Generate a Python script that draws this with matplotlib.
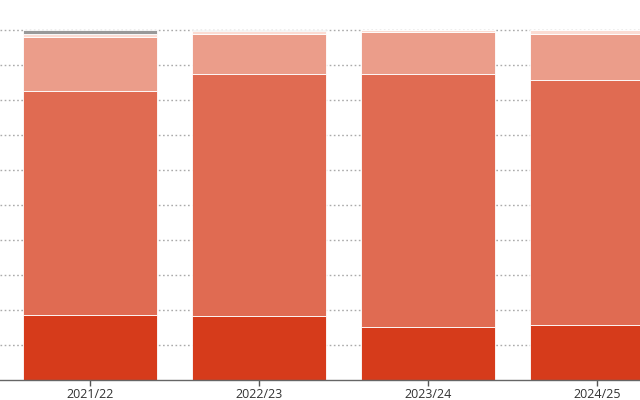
import matplotlib.pyplot as plt
import numpy as np

plt.rcParams['font.family'] = ['Open Sans', 'DejaVu Sans']

years = ['2021/22', '2022/23', '2023/24', '2024/25']
# stacked shares (percent), bottom to top
dark = [18.7, 18.4, 15.2, 15.7]
medium = [63.9, 69.0, 72.2, 70.0]
light = [15.4, 11.5, 12.0, 13.2]
pale = [0.8, 0.8, 0.6, 1.1]
grey = [1.2, 0.4, 0.0, 0.0]

colors = ['#d63b1b', '#e06b52', '#eb9d8a', '#fbdcd3', '#999999']

fig = plt.figure(figsize=(6.4, 4.0), dpi=100)
ax = fig.add_axes([0, 0.05, 1, 0.95])

x = np.arange(len(years))
bottom = np.zeros(len(years))
for vals, c in zip([dark, medium, light, pale, grey], colors):
    ax.bar(x, vals, width=0.79, bottom=bottom, color=c, edgecolor='white',
           linewidth=0.6, zorder=2)
    bottom += np.array(vals)

ax.set_xlim(-0.533, 3.254)
ax.set_ylim(0, 108.57)
ax.set_yticks(np.arange(10, 101, 10))
ax.yaxis.grid(True, linestyle=(0, (1.2, 1.8)), color='#aaaaaa', linewidth=1, zorder=0)
ax.tick_params(axis='y', left=False, labelleft=False)

ax.set_xticks(x)
ax.set_xticklabels(years, fontsize=9, color='#333333')
ax.tick_params(axis='x', length=4, color='#555555', width=1, pad=2)

for s in ['top', 'right', 'left']:
    ax.spines[s].set_visible(False)
ax.spines['bottom'].set_color('#666666')
ax.spines['bottom'].set_linewidth(1)

fig.savefig('out.png', dpi=100)
